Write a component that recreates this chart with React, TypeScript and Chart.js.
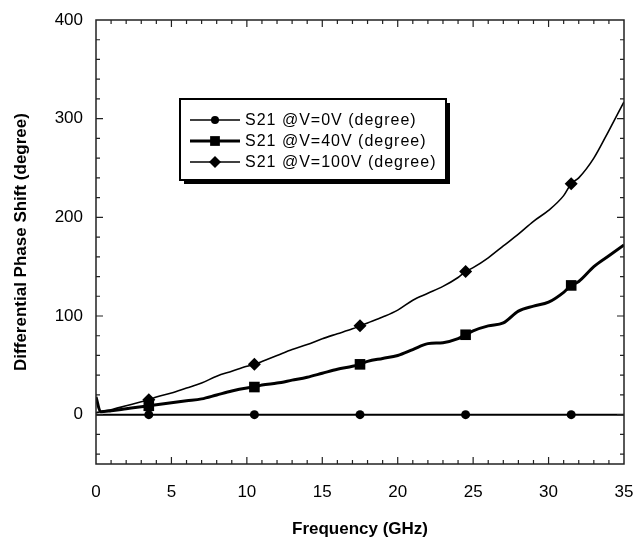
import React, { useEffect, useRef } from "react";
import { Chart, registerables } from "chart.js";
Chart.register(...registerables);

// Frequency grid (GHz) for the measured S21 curves
const freqGHz = [0, 0.3, 1, 2, 3, 3.5, 4, 5, 6, 7, 8, 9, 10, 10.5, 11, 12, 13, 14, 15, 16, 17, 17.5, 18, 19, 20, 21, 22, 23, 24, 24.5, 25, 26, 27, 28, 29, 30, 31, 31.5, 32, 33, 34, 35];
const s21V40 = [18, 3, 4, 6, 8, 9, 10, 12, 14, 16, 20, 24, 27, 28, 30, 32, 35, 38, 42, 46, 49, 51, 54, 57, 60, 66, 72, 73, 77, 81, 85, 90, 93, 105, 110, 114, 124, 131, 135, 150, 161, 172];
const s21V100 = [2, 3, 5, 9, 13, 15, 18, 22, 27, 32, 39, 44, 49, 51, 54, 60, 66, 71, 77, 82, 87, 90, 93, 99, 106, 116, 123, 130, 139, 145, 149, 159, 171, 183, 196, 207, 222, 234, 240, 260, 288, 317];
// Reference (0 V) curve
const freq0 = [0, 3.5, 10.5, 17.5, 24.5, 31.5, 35];
const s21V0 = [0, 0, 0, 0, 0, 0, 0];
// Frequencies where symbols are drawn
const markerFreq = [3.5, 10.5, 17.5, 24.5, 31.5];

const seriesLabels = ["S21 @V=0V (degree)", "S21 @V=40V (degree)", "S21 @V=100V (degree)"];
const xTicks = [0, 5, 10, 15, 20, 25, 30, 35];
const yTicks = [0, 100, 200, 300, 400];

const FONT = "'Liberation Sans', Arial, sans-serif";

const frameTicks = {
  id: "frameTicks",
  afterDatasetsDraw(chart: any) {
    const { ctx, chartArea: a, scales } = chart;
    const x = scales.x, y = scales.y;
    ctx.save();
    ctx.strokeStyle = "#222";
    ctx.lineWidth = 1.2;
    ctx.beginPath();
    for (let v = 1; v < 35; v++) {
      const px = x.getPixelForValue(v);
      const len = v % 5 === 0 ? 7 : 4;
      ctx.moveTo(px, a.bottom); ctx.lineTo(px, a.bottom - len);
      ctx.moveTo(px, a.top); ctx.lineTo(px, a.top + len);
    }
    for (let v = -40; v < 400; v += 20) {
      const py = y.getPixelForValue(v);
      const len = v % 100 === 0 ? 7 : 4;
      ctx.moveTo(a.left, py); ctx.lineTo(a.left + len, py);
      ctx.moveTo(a.right, py); ctx.lineTo(a.right - len, py);
    }
    ctx.stroke();
    ctx.lineWidth = 1.5;
    ctx.strokeRect(a.left, a.top, a.right - a.left, a.bottom - a.top);
    ctx.restore();
  },
};

const boxLegend = {
  id: "boxLegend",
  afterDraw(chart: any) {
    const { ctx } = chart;
    const bx = 180, by = 99, bw = 266, bh = 81;
    ctx.save();
    ctx.fillStyle = "#000";
    ctx.fillRect(bx + 4, by + 4, bw, bh);
    ctx.fillStyle = "#fff";
    ctx.fillRect(bx, by, bw, bh);
    ctx.strokeStyle = "#000";
    ctx.lineWidth = 2;
    ctx.strokeRect(bx, by, bw, bh);
    const rows = [120, 141, 162];
    const widths = [1.5, 3, 1.5];
    const styles = ["circle", "rect", "rectRot"];
    const radii = [4, 6.5, 6];
    chart.data.datasets.forEach((ds: any, i: number) => {
      const ry = rows[i];
      ctx.strokeStyle = "#000";
      ctx.lineWidth = widths[i];
      ctx.beginPath();
      ctx.moveTo(190, ry);
      ctx.lineTo(240, ry);
      ctx.stroke();
      ctx.fillStyle = "#000";
      const r = radii[i];
      ctx.beginPath();
      if (styles[i] === "circle") {
        ctx.arc(215, ry, r, 0, Math.PI * 2);
      } else if (styles[i] === "rect") {
        ctx.rect(215 - r * 0.75, ry - r * 0.75, r * 1.5, r * 1.5);
      } else {
        ctx.moveTo(215, ry - r); ctx.lineTo(215 + r, ry); ctx.lineTo(215, ry + r); ctx.lineTo(215 - r, ry); ctx.closePath();
      }
      ctx.fill();
      ctx.font = `16px ${FONT}`;
      (ctx as any).letterSpacing = "1px";
      ctx.textBaseline = "middle";
      ctx.textAlign = "left";
      ctx.fillText(ds.label, 245, ry + 1);
      (ctx as any).letterSpacing = "0px";
    });
    ctx.restore();
  },
};

export default function App() {
  const ref = useRef<HTMLCanvasElement>(null);
  useEffect(() => {
    if (!ref.current) return;
    const mk = (f: number[], v: number[]) => f.map((fx, i) => ({ x: fx, y: v[i] }));
    const radiusFor = (f: number[], r: number) => (c: any) => (markerFreq.includes(f[c.dataIndex]) ? r : 0);
    const chart = new Chart(ref.current, {
      type: "line",
      data: {
        datasets: [
          {
            label: seriesLabels[0],
            data: mk(freq0, s21V0),
            borderColor: "#000",
            backgroundColor: "#000",
            borderWidth: 2,
            pointStyle: "circle",
            pointRadius: radiusFor(freq0, 4.5),
            pointBorderWidth: 0,
            tension: 0,
          },
          {
            label: seriesLabels[1],
            data: mk(freqGHz, s21V40),
            borderColor: "#000",
            backgroundColor: "#000",
            borderWidth: 3,
            pointStyle: "rect",
            pointRadius: radiusFor(freqGHz, 7.5),
            pointBorderWidth: 0,
            cubicInterpolationMode: "monotone",
          },
          {
            label: seriesLabels[2],
            data: mk(freqGHz, s21V100),
            borderColor: "#000",
            backgroundColor: "#000",
            borderWidth: 1.6,
            pointStyle: "rectRot",
            pointRadius: radiusFor(freqGHz, 6.5),
            pointBorderWidth: 0,
            cubicInterpolationMode: "monotone",
          },
        ],
      },
      options: {
        responsive: false,
        animation: false,
        layout: { padding: { left: 10, right: 12, top: 20, bottom: 0 } },
        plugins: { legend: { display: false }, tooltip: { enabled: false } },
        scales: {
          x: {
            type: "linear",
            min: 0,
            max: 35,
            afterBuildTicks: (s: any) => { s.ticks = xTicks.map((v) => ({ value: v })); },
            afterFit: (s: any) => { s.height = 77; s.paddingLeft = 0; s.paddingRight = 0; },
            grid: { display: false, drawTicks: false },
            border: { display: false },
            ticks: { color: "#000", font: { family: FONT, size: 17 }, padding: 18, maxRotation: 0 },
            title: { display: true, text: "Frequency (GHz)", color: "#000", font: { family: FONT, size: 17, weight: "bold" }, padding: { top: 0, bottom: 1 } },
          },
          y: {
            type: "linear",
            min: -50,
            max: 400,
            afterBuildTicks: (s: any) => { s.ticks = yTicks.map((v) => ({ value: v })); },
            afterFit: (s: any) => { s.width = 86; s.paddingTop = 0; s.paddingBottom = 0; },
            grid: { display: false, drawTicks: false },
            border: { display: false },
            ticks: { color: "#000", font: { family: FONT, size: 17 }, padding: 13 },
            title: { display: true, text: "Differential Phase Shift (degree)", color: "#000", font: { family: FONT, size: 17, weight: "bold" }, padding: { top: 1, bottom: 0 } },
          },
        },
      },
      plugins: [frameTicks, boxLegend],
    } as any);
    return () => chart.destroy();
  }, []);
  return (
    <div style={{ position: "absolute", left: 0, top: 0, width: 636, height: 541, background: "#fff" }}>
      <canvas ref={ref} width={636} height={541} style={{ display: "block" }} />
    </div>
  );
}
